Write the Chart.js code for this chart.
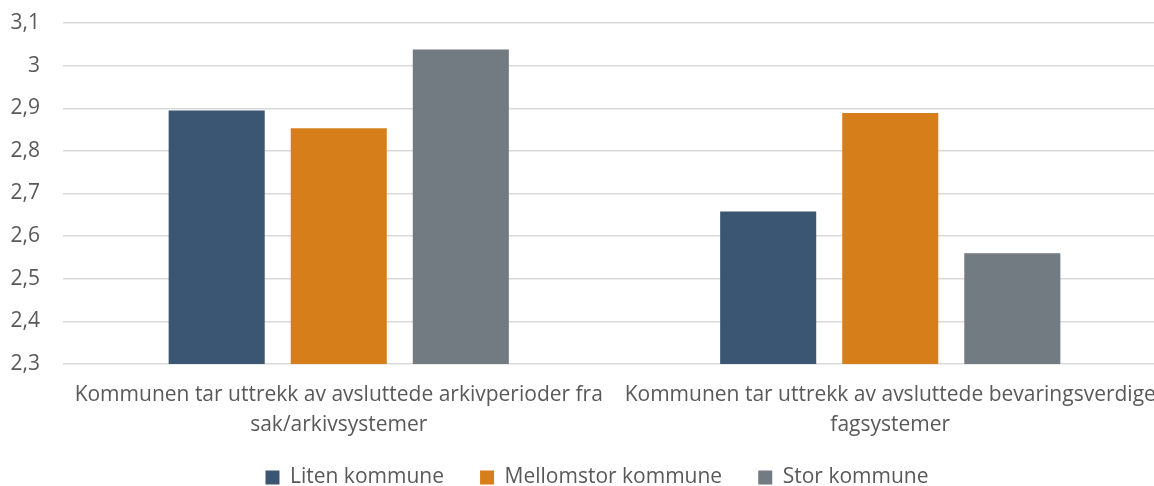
<!DOCTYPE html>
<html>
<head>
<meta charset="utf-8">
<script src="https://cdn.jsdelivr.net/npm/chart.js@4"></script>
<style>
  html, body { margin: 0; padding: 0; background: #fff; overflow: hidden; }
  #wrap { width: 1168px; height: 498px; position: relative; }
</style>
</head>
<body>
<div id="wrap"><canvas id="chart"></canvas></div>
<script>
const categories = [
  ["Kommunen tar uttrekk av avsluttede arkivperioder fra", "sak/arkivsystemer"],
  ["Kommunen tar uttrekk av avsluttede bevaringsverdige", "fagsystemer"]
];
const seriesNames = ["Liten kommune", "Mellomstor kommune", "Stor kommune"];
const liten = [2.895, 2.658];
const mellomstor = [2.853, 2.889];
const stor = [3.038, 2.56];
const seriesColors = ["#3a5673", "#d67f1a", "#727a82"];

const textColor = "#595959";
const font = { family: "'Open Sans', sans-serif", size: 21 };

// legend sits a bit right of centre in the original
const nudgeLegend = {
  id: "nudgeLegend",
  afterLayout(chart) {
    chart.legend.left += 14;
    chart.legend.right += 14;
  }
};

document.addEventListener("DOMContentLoaded", () => {
  const ctx = document.getElementById("chart").getContext("2d");
  new Chart(ctx, {
    type: "bar",
    data: {
      labels: categories,
      datasets: [liten, mellomstor, stor].map((data, i) => ({
        label: seriesNames[i],
        data,
        backgroundColor: seriesColors[i],
        categoryPercentage: 0.664,
        barPercentage: 0.787
      }))
    },
    plugins: [nudgeLegend],
    options: {
      responsive: true,
      maintainAspectRatio: false,
      animation: false,
      layout: { padding: { left: 0, right: 2, top: 23, bottom: 0 } },
      plugins: {
        tooltip: { enabled: false },
        legend: {
          position: "bottom",
          labels: {
            color: textColor,
            font,
            boxWidth: 14,
            boxHeight: 14,
            padding: 27,
            generateLabels: (chart) => {
              const items = Chart.defaults.plugins.legend.labels.generateLabels(chart);
              items.forEach((it, i) => { if (i < items.length - 1) it.text += "\u2009\u2009\u200A"; });
              return items;
            }
          }
        }
      },
      scales: {
        x: {
          grid: { display: false, drawTicks: false },
          border: { display: false },
          ticks: { color: textColor, font: { ...font, lineHeight: 1.43 }, maxRotation: 0, autoSkip: false, padding: 16 },
          afterFit: (s) => { s.paddingLeft = 0; s.paddingRight = 0; s.height = 76; }
        },
        y: {
          min: 2.3,
          max: 3.1,
          grid: { color: "#d9d9d9", lineWidth: 1.5, drawTicks: false },
          border: { display: false },
          ticks: {
            stepSize: 0.1,
            color: textColor,
            font,
            padding: 23,
            callback: (v) => String(Math.round(v * 10) / 10).replace(".", ",")
          },
          afterFit: (s) => { s.paddingTop = 0; s.paddingBottom = 0; s.width = 63; }
        }
      }
    }
  });
});
</script>
</body>
</html>
